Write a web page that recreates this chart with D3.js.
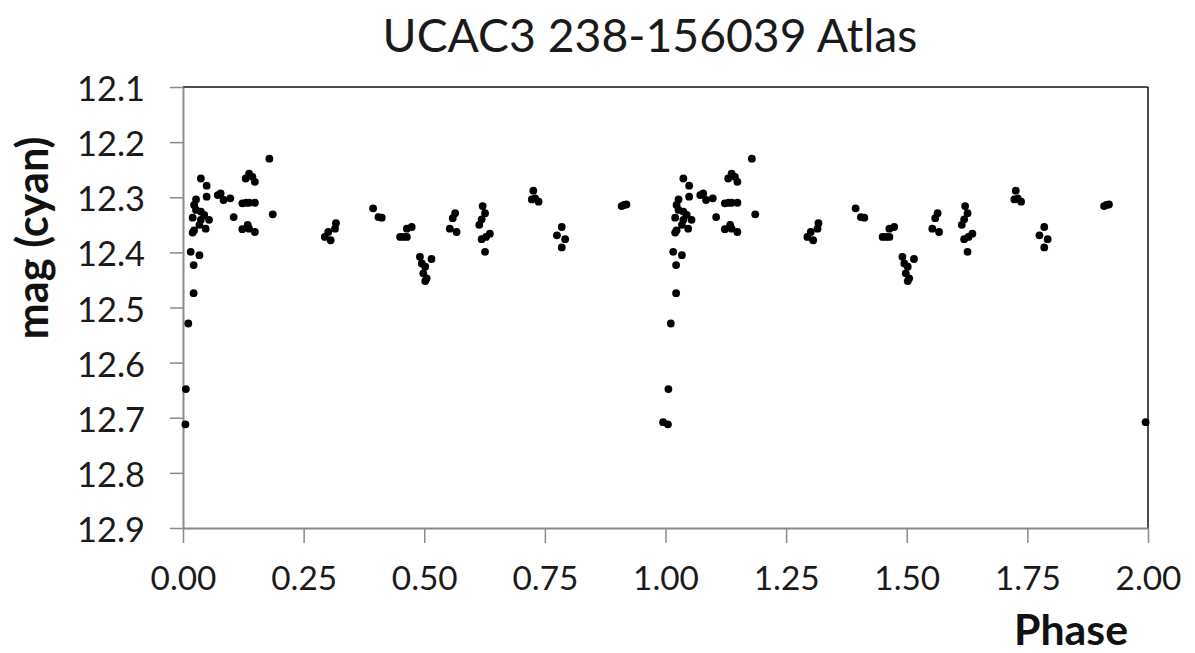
<!DOCTYPE html>
<html>
<head>
<meta charset="utf-8">
<script src="https://cdn.jsdelivr.net/npm/d3@7"></script>
<style>
  html, body { margin: 0; padding: 0; background: #fff; }
  svg { display: block; font-family: Lato, "Open Sans", sans-serif; }
</style>
</head>
<body>
<svg id="chart" width="1195" height="653"></svg>
<script>
// ---- data (phase 0..1, each point also plotted at phase + 1) ----
const basePhase = [
  0.005, 0.006, 0.011, 0.016, 0.022, 0.022, 0.034,
  0.037, 0.049, 0.049, 0.027, 0.023, 0.027, 0.037, 0.020, 0.044, 0.054, 0.037, 0.034, 0.023, 0.020, 0.047,
  0.072, 0.078, 0.084, 0.098, 0.105,
  0.130, 0.137, 0.144, 0.149,
  0.123, 0.131, 0.137, 0.149,
  0.123, 0.134, 0.137, 0.149,
  0.179, 0.186,
  0.294, 0.301, 0.306, 0.315, 0.317,
  0.394, 0.405, 0.412,
  0.450, 0.457, 0.464, 0.464, 0.474,
  0.491, 0.495, 0.502, 0.498, 0.505, 0.502, 0.515,
  0.553, 0.559, 0.564, 0.567,
  0.614, 0.619, 0.621, 0.626, 0.619, 0.628, 0.636, 0.626,
  0.723, 0.726, 0.730, 0.737,
  0.775, 0.785, 0.792, 0.785,
  0.909, 0.914, 0.919,
  0.995
];
const baseMag = [
  12.712, 12.648, 12.529, 12.399, 12.474, 12.423, 12.405,
  12.266, 12.279, 12.299, 12.304, 12.314, 12.323, 12.326, 12.337, 12.332, 12.341, 12.341, 12.350, 12.360, 12.364, 12.357,
  12.296, 12.293, 12.305, 12.302, 12.336,
  12.266, 12.257, 12.263, 12.272,
  12.311, 12.310, 12.310, 12.310,
  12.358, 12.350, 12.357, 12.363,
  12.230, 12.331,
  12.372, 12.363, 12.378, 12.357, 12.347,
  12.320, 12.336, 12.337,
  12.372, 12.372, 12.372, 12.357, 12.354,
  12.408, 12.420, 12.426, 12.438, 12.447, 12.452, 12.412,
  12.357, 12.338, 12.329, 12.363,
  12.350, 12.340, 12.316, 12.329, 12.376, 12.372, 12.366, 12.399,
  12.304, 12.288, 12.302, 12.308,
  12.369, 12.354, 12.376, 12.391,
  12.316, 12.314, 12.313,
  12.708
];
const cycles = [0, 1];
const xTicks = [0, 0.25, 0.5, 0.75, 1, 1.25, 1.5, 1.75, 2];
const yTicks = [12.1, 12.2, 12.3, 12.4, 12.5, 12.6, 12.7, 12.8, 12.9];
const titleText = "UCAC3 238-156039 Atlas";
const xLabel = "Phase";
const yLabel = "mag (cyan)";

// ---- layout ----
const svg = d3.select("#chart");
const L = 183, R = 1148, T = 87, B = 528;
const x = d3.scaleLinear().domain([0, 2]).range([L, R]);
const y = d3.scaleLinear().domain([12.1, 12.9]).range([T, B]);

const points = [];
cycles.forEach(c => basePhase.forEach((p, i) => {
  if (p + c <= 2) points.push({ p: p + c, m: baseMag[i] });
}));

function fit(sel, target) {
  const w = sel.node().getComputedTextLength();
  const fs = parseFloat(sel.attr("font-size"));
  sel.attr("font-size", (fs * target / w).toFixed(2));
}

// frame: top & right black
svg.append("line").attr("x1", L).attr("x2", R).attr("y1", T).attr("y2", T)
  .attr("stroke", "#111").attr("stroke-width", 1.5);
svg.append("line").attr("x1", R).attr("x2", R).attr("y1", T).attr("y2", B)
  .attr("stroke", "#111").attr("stroke-width", 1.5);

// axes
const gx = svg.append("g").attr("transform", `translate(0,${B})`)
  .call(d3.axisBottom(x).tickValues(xTicks).tickSize(15).tickSizeOuter(0).tickFormat(d3.format(".2f")));
const gy = svg.append("g").attr("transform", `translate(${L},0)`)
  .call(d3.axisLeft(y).tickValues(yTicks).tickSize(13).tickSizeOuter(0).tickFormat(d3.format(".1f")));
[gx, gy].forEach(g => {
  g.select(".domain").attr("stroke", "#8a8a8a").attr("stroke-width", 2);
  g.selectAll(".tick line").attr("stroke", "#8a8a8a").attr("stroke-width", 1.5);
  g.selectAll("text").attr("fill", "#1a1a1a").attr("font-family", "Lato, sans-serif");
});
gx.selectAll(".tick text").attr("font-size", 26).attr("dy", null).attr("y", 49)
  .attr("dominant-baseline", "central");
gy.selectAll(".tick text").attr("font-size", 28).attr("dy", null).attr("x", -38)
  .attr("dominant-baseline", "central");
{
  const t0 = gx.select(".tick text");
  const w = t0.node().getComputedTextLength();
  gx.selectAll(".tick text").attr("font-size", (26 * 66 / w).toFixed(2));
  const u0 = gy.select(".tick text");
  const w2 = u0.node().getComputedTextLength();
  gy.selectAll(".tick text").attr("font-size", (28 * 68 / w2).toFixed(2));
}

// points
svg.append("g").selectAll("circle").data(points).join("circle")
  .attr("cx", d => x(d.p)).attr("cy", d => y(d.m)).attr("r", 3.9).attr("fill", "#000");

// title
const tt = svg.append("text").attr("x", 650).attr("y", 34).attr("text-anchor", "middle")
  .attr("dominant-baseline", "central").attr("font-size", 36).attr("fill", "#1a1a1a").text(titleText);
fit(tt, 535);

// x label
const xl = svg.append("text").attr("x", 1128).attr("y", 645).attr("text-anchor", "end")
  .attr("font-size", 30).attr("font-weight", "bold")
  .attr("fill", "#111").text(xLabel);
fit(xl, 114);

// y label
const yl = svg.append("text").attr("transform", "translate(31,238) rotate(-90)")
  .attr("text-anchor", "middle").attr("dominant-baseline", "central")
  .attr("font-size", 30).attr("font-weight", "bold").attr("fill", "#111").text(yLabel);
fit(yl, 203);
</script>
</body>
</html>
